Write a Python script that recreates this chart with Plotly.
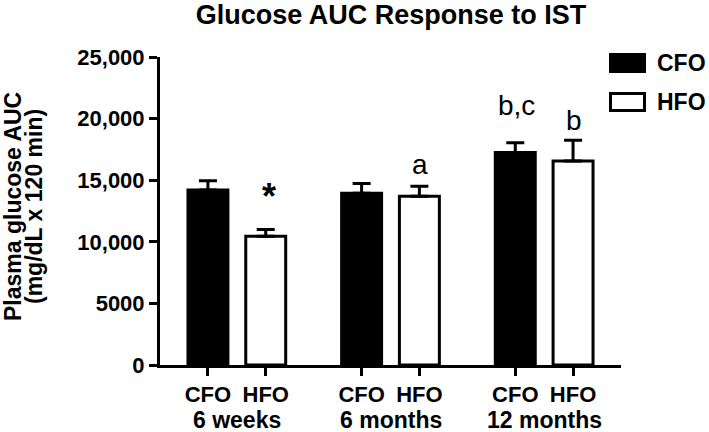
import plotly.graph_objects as go

# datos (media y error estándar, mg/dL x 120 min)
groups = ["6 weeks", "6 months", "12 months"]
diets = ["CFO", "HFO"]
cfo_auc = [14200, 13950, 17250]
cfo_sem = [750, 780, 780]
hfo_auc = [10450, 13700, 16550]
hfo_sem = [550, 800, 1700]
y_ticks = [0, 5000, 10000, 15000, 20000, 25000]
y_tick_labels = ["0", "5000", "10,000", "15,000", "20,000", "25,000"]
# letras de significancia sobre cada barra
cfo_marks = ["", "", "b,c"]
hfo_marks = ["*", "a", "b"]

FONT = "Arial, Liberation Sans, sans-serif"
OFFSET = 0.188   # desplazamiento de cada barra respecto al centro del grupo
BAR_W = 0.26
LIFT = {"*": 33, "a": 22, "b": 20, "b,c": 37}  # separación (px) sobre la barra de error

W, H = 709, 432
L, R, T, B = 160, 88, 57, 67
PW, PH = W - L - R, H - T - B


def px_x(p):
    return (p - L) / PW


def px_y(p):
    return (H - B - p) / PH


fig = go.Figure()
styles = {
    "CFO": dict(fill="black", x=[i - OFFSET for i in range(len(groups))],
                y=cfo_auc, err=cfo_sem, marks=cfo_marks),
    "HFO": dict(fill="white", x=[i + OFFSET for i in range(len(groups))],
                y=hfo_auc, err=hfo_sem, marks=hfo_marks),
}
for diet in diets:
    s = styles[diet]
    fig.add_trace(go.Bar(
        x=s["x"], y=s["y"], width=BAR_W, name=diet, showlegend=False,
        marker=dict(color=s["fill"], line=dict(color="black", width=3)),
        error_y=dict(type="data", array=s["err"], arrayminus=[0] * len(s["err"]),
                     symmetric=False, color="black", thickness=3, width=9),
    ))
    for x, y, e, m in zip(s["x"], s["y"], s["err"], s["marks"]):
        if not m:
            continue
        fig.add_annotation(
            x=x, y=y + e, yshift=LIFT[m], text=m, showarrow=False,
            yanchor="middle", xshift=3 if m == "*" else 1,
            font=dict(family=FONT, size=36 if m == "*" else 28, color="black",
                      weight="bold" if m == "*" else "normal"),
        )

# nombres de grupo bajo las etiquetas CFO / HFO
for i, g in enumerate(groups):
    fig.add_annotation(
        x=i, xref="x", y=px_y(419.5), yref="paper", text=g, showarrow=False,
        yanchor="middle", font=dict(family=FONT, size=23, color="black", weight="bold"),
    )

# título del eje Y en dos líneas
for txt, xc in [("Plasma glucose AUC", 13), ("(mg/dL x 120 min)", 34)]:
    fig.add_annotation(
        x=px_x(xc), xref="paper", y=px_y(207), yref="paper", text=txt,
        textangle=-90, showarrow=False, xanchor="center", yanchor="middle",
        font=dict(family=FONT, size=23, color="black", weight="bold"),
    )

# leyenda dibujada a mano (cuadros grandes como en el original)
for diet, (y0, y1) in zip(diets, [(54.5, 71.5), (93.5, 110.5)]):
    fig.add_shape(
        type="rect", xref="paper", yref="paper",
        x0=px_x(610.5), x1=px_x(644.5), y0=px_y(y1), y1=px_y(y0),
        fillcolor=styles[diet]["fill"], line=dict(color="black", width=3),
    )
    fig.add_annotation(
        x=px_x(655), xref="paper", y=px_y((y0 + y1) / 2), yref="paper",
        text=diet, showarrow=False, xanchor="left", yanchor="middle",
        font=dict(family=FONT, size=23, color="black", weight="bold"),
    )

tick_x = [x for pair in zip(styles["CFO"]["x"], styles["HFO"]["x"]) for x in pair]
tick_t = [d for _ in groups for d in diets]

fig.update_layout(
    width=W, height=H, barmode="overlay",
    plot_bgcolor="white", paper_bgcolor="white",
    margin=dict(l=L, r=R, t=T, b=B),
    font=dict(family=FONT, color="black"),
    title=dict(text="Glucose AUC Response to IST", x=px_x(391), xref="paper",
               xanchor="center", y=1 - 15 / H, yref="container", yanchor="middle",
               font=dict(family=FONT, size=27, color="black", weight="bold")),
)
fig.update_xaxes(
    range=[-0.5, len(groups) - 0.5], tickmode="array", tickvals=tick_x, ticktext=tick_t,
    showline=True, linecolor="black", linewidth=3, ticks="outside", ticklen=8,
    tickwidth=3, tickcolor="black", showgrid=False, zeroline=False,
    tickfont=dict(family=FONT, size=22, color="black", weight="bold"),
)
fig.update_yaxes(
    range=[0, 25000], tickmode="array", tickvals=y_ticks, ticktext=y_tick_labels,
    showline=True, linecolor="black", linewidth=3, ticks="outside", ticklen=8,
    tickwidth=3, tickcolor="black", showgrid=False, zeroline=False,
    tickfont=dict(family=FONT, size=22, color="black", weight="bold"),
)

# sin el margen por defecto del <body>, para que la figura ocupe toda la ventana
fig.write_html("out.html", config={"displayModeBar": False},
               post_script="document.body.style.margin = '0';")
